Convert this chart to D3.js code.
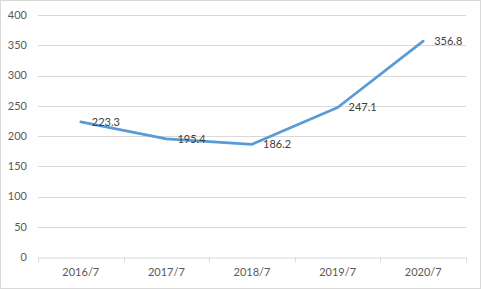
<!DOCTYPE html>
<html>
<head>
<meta charset="utf-8">
<script src="https://cdn.jsdelivr.net/npm/d3@7"></script>
<style>
  html, body { margin: 0; padding: 0; background: #fff; }
  svg text { font-family: Lato, "Open Sans", sans-serif; font-size: 11px; fill: #595959; }
</style>
</head>
<body>
<div id="chart"></div>
<script>
// data
const categories = ["2016/7", "2017/7", "2018/7", "2019/7", "2020/7"];
const values = [223.3, 195.4, 186.2, 247.1, 356.8];
const yTicks = [0, 50, 100, 150, 200, 250, 300, 350, 400];

const width = 481, height = 289;
const margin = { top: 15, right: 15, bottom: 32, left: 38 };

const svg = d3.select("#chart").append("svg")
    .attr("width", width)
    .attr("height", height);

// outer chart border
svg.append("rect")
    .attr("x", 0.5).attr("y", 0.5)
    .attr("width", width - 1).attr("height", height - 1)
    .attr("fill", "#fff")
    .attr("stroke", "#d9d9d9");

const x = d3.scaleBand()
    .domain(categories)
    .range([margin.left, width - margin.right]);

const y = d3.scaleLinear()
    .domain([0, 400])
    .range([height - margin.bottom, margin.top]);

// gridlines
svg.append("g")
    .selectAll("line")
    .data(yTicks.filter(d => d > 0))
    .enter()
    .append("line")
    .attr("x1", margin.left)
    .attr("x2", width - margin.right)
    .attr("y1", d => Math.round(y(d)) + 0.5)
    .attr("y2", d => Math.round(y(d)) + 0.5)
    .attr("stroke", "#d9d9d9");

// y labels
svg.append("g")
    .selectAll("text")
    .data(yTicks)
    .enter()
    .append("text")
    .attr("x", 27)
    .attr("y", d => y(d))
    .attr("dy", "0.35em")
    .attr("text-anchor", "end")
    .text(d => d);

// x axis
const xAxis = svg.append("g")
    .attr("transform", `translate(0, ${Math.round(y(0)) + 0.5})`)
    .call(d3.axisBottom(x).tickSize(0).tickPadding(11));
xAxis.select(".domain").attr("stroke", "#d9d9d9");
xAxis.selectAll("text")
    .style("font-family", "Lato, 'Open Sans', sans-serif")
    .style("font-size", "11px")
    .attr("fill", "#595959");

// category separator ticks
const edges = categories.map(c => x(c)).concat([x(categories[categories.length - 1]) + x.bandwidth()]);
xAxis.selectAll(".sep")
    .data(edges)
    .enter()
    .append("line")
    .attr("class", "sep")
    .attr("x1", d => Math.round(d) + 0.5)
    .attr("x2", d => Math.round(d) + 0.5)
    .attr("y1", 0)
    .attr("y2", 5)
    .attr("stroke", "#d9d9d9");

// line
const line = d3.line()
    .x((d, i) => x(categories[i]) + x.bandwidth() / 2)
    .y(d => y(d));

svg.append("path")
    .datum(values)
    .attr("d", line)
    .attr("fill", "none")
    .attr("stroke", "#5b9bd5")
    .attr("stroke-width", 2.75)
    .attr("stroke-linejoin", "round")
    .attr("stroke-linecap", "round");

// data labels
svg.append("g")
    .selectAll("text")
    .data(values)
    .enter()
    .append("text")
    .attr("x", (d, i) => x(categories[i]) + x.bandwidth() / 2 + 11)
    .attr("y", d => y(d))
    .attr("dy", "0.35em")
    .style("fill", "#404040")
    .text(d => d.toFixed(1));
</script>
</body>
</html>
